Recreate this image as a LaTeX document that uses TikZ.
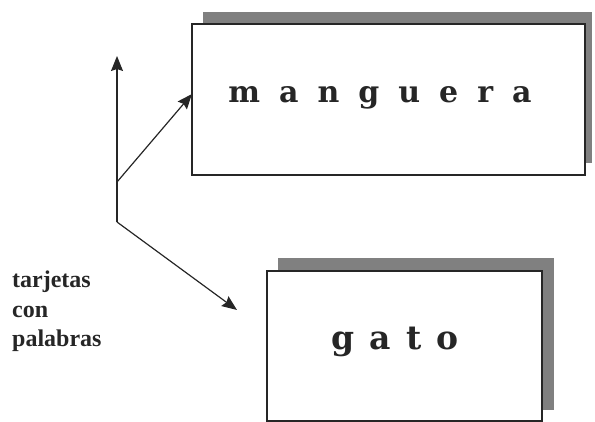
\documentclass[tikz,border=0pt]{standalone}
\usepackage{fontspec}
\setmainfont{Liberation Serif}
\newfontfamily\cardfont{DejaVu Serif}
\usetikzlibrary{arrows.meta}
\begin{document}
\begin{tikzpicture}[x=1pt,y=-1pt,
  shadowbox/.style={fill=black!50, draw=none},
  cardbox/.style={fill=white, draw=black!85, line width=1.2pt},
  arr/.style={line width=1.2pt, black!85, -{Stealth[length=15pt,width=12pt,inset=2pt]}},
  cardtext/.style={text=black!85, inner sep=0pt, anchor=base},
  lbl/.style={font=\bfseries\fontsize{24}{29.5}\selectfont, text=black!85, align=left, anchor=north west, inner sep=0pt}]
\useasboundingbox (0,0) rectangle (595,422);
% manguera card
\fill[shadowbox] (203,12) rectangle (592,163);
\node[cardbox, minimum width=393pt, minimum height=151pt, inner sep=0pt] (mcard) at (388.5,99.5) {};
\node[cardtext, font=\cardfont\bfseries\fontsize{30}{30}\selectfont] (mtext) at (380,103)
  {m\hspace{19pt}a\hspace{19pt}n\hspace{19pt}g\hspace{19pt}u\hspace{19pt}e\hspace{19pt}r\hspace{19pt}a};
% gato card
\fill[shadowbox] (278,258) rectangle (554,410);
\node[cardbox, minimum width=275pt, minimum height=150pt, inner sep=0pt] (gcard) at (404.5,346) {};
\node[cardtext, font=\cardfont\bfseries\fontsize{33}{33}\selectfont] (gtext) at (395,350)
  {g\hspace{15pt}a\hspace{15pt}t\hspace{15pt}o};
% label
\node[lbl] (label) at (12,271) {tarjetas\\con\\palabras};
% arrows
\coordinate (hub) at (117,222);
\coordinate (mid) at (117,182);
\coordinate (top) at (117,56);
\coordinate (mtip) at (192,94);
\coordinate (gtip) at (237,310);
\draw[line width=1.2pt, black!85] (hub) -- (mid);
\draw[arr] (mid) -- (top);
\draw[arr] (mid) -- (mtip);
\draw[arr] (hub) -- (gtip);
\end{tikzpicture}
\end{document}
